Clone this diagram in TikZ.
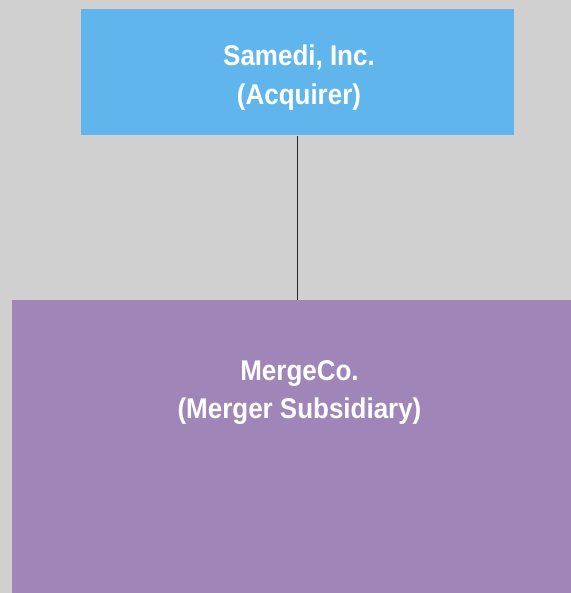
\documentclass[tikz,border=0pt]{standalone}
\usepackage{fontspec}
\setmainfont{Liberation Sans}[FakeStretch=0.91]
\definecolor{pagebg}{HTML}{D0D0D0}
\definecolor{acqblue}{HTML}{60B6EC}
\definecolor{subpurple}{HTML}{A086B8}
\begin{document}
\begin{tikzpicture}[x=0.75pt,y=-0.75pt,
  box/.style={draw=none,inner sep=0pt,anchor=north west},
  boxtext/.style={text=white,align=center,inner sep=0pt,
    font=\fontsize{21.4pt}{28.9pt}\selectfont\bfseries},
  link/.style={draw=black!85,line width=0.7pt}]
\useasboundingbox (0,0) rectangle (571,593);
\fill[pagebg] (0,0) rectangle (571,593);
% acquiring company
\node[box,fill=acqblue,minimum width=324.75pt,minimum height=94.5pt] (acq) at (81,9) {};
\node[boxtext] (acqtext) at (299,77.5) {Samedi, Inc.\\(Acquirer)};
% merger subsidiary
\node[box,fill=subpurple,minimum width=419.25pt,minimum height=219.75pt] (sub) at (12,300) {};
\node[boxtext] (subtext) at (299.5,392.5) {MergeCo.\\(Merger Subsidiary)};
% ownership line
\draw[link] ([xshift=-0.4pt]acq.south) -- ([xshift=-0.4pt]acq.south |- sub.north);
\end{tikzpicture}
\end{document}
